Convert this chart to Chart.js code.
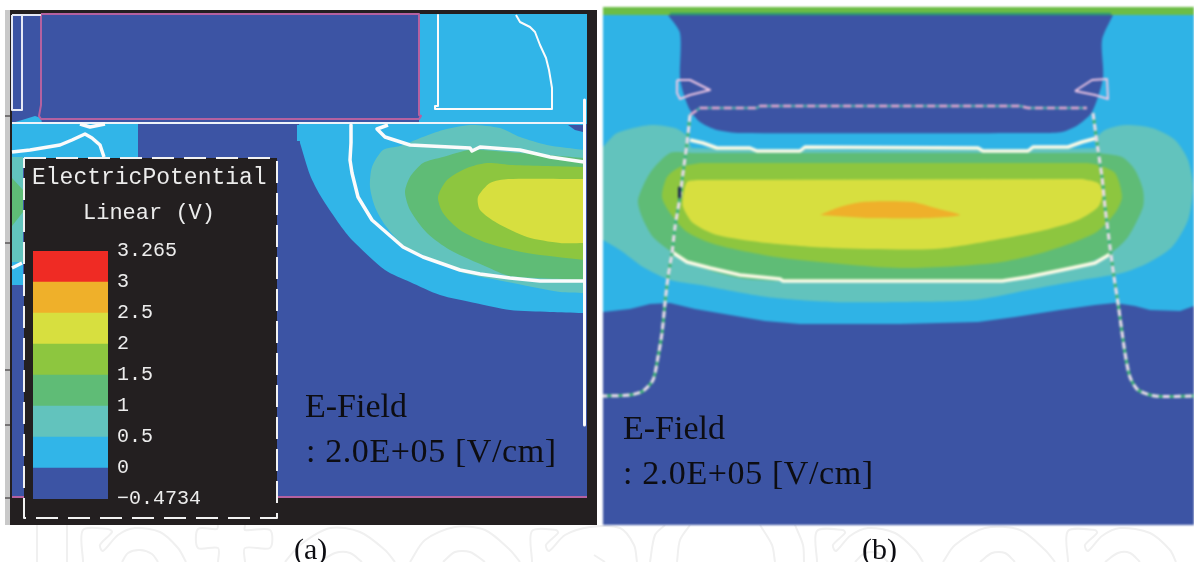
<!DOCTYPE html>
<html>
<head>
<meta charset="utf-8">
<title>Electric potential contours</title>
<script src="https://cdn.jsdelivr.net/npm/chart.js@4"></script>
<style>
html, body { margin: 0; padding: 0; background: #fff; }
body { position: relative; width: 1194px; height: 562px; overflow: hidden; }
canvas { position: absolute; }
#wmark { left: 0; top: 525px; }
#panelA { left: 5px; top: 10px; background: #231f20; filter: blur(.35px); }
#panelB { left: 603px; top: 7px; background: #2fb3e6; filter: blur(.8px); }
#scale { left: 33px; top: 230px; }
.t { position: absolute; white-space: pre; line-height: 1; font-family: "Liberation Serif", serif; color: #0d0d12; }
.note { font-size: 34px; }
.wide { letter-spacing: .6px; }
.cap { font-size: 30px; }
.mono { font-family: "Liberation Mono", monospace; color: #ececec; }
</style>
</head>
<body>
<canvas id="wmark" width="1194" height="37"></canvas>
<canvas id="panelA" width="592" height="515"></canvas>
<canvas id="panelB" width="591" height="518"></canvas>
<canvas id="scale" width="237" height="290"></canvas>

<div class="t mono" style="left:32px;top:167px;font-size:23px">ElectricPotential</div>
<div class="t mono" style="left:83px;top:203px;font-size:22px">Linear (V)</div>
<div class="t note" style="left:305px;top:389px">E-Field</div>
<div class="t note wide" style="left:306px;top:434px">: 2.0E+05 [V/cm]</div>
<div class="t note" style="left:623px;top:411px">E-Field</div>
<div class="t note wide" style="left:623px;top:456px">: 2.0E+05 [V/cm]</div>
<div class="t cap" style="left:294px;top:534px">(a)</div>
<div class="t cap" style="left:862px;top:534px">(b)</div>

<script>
// colour scale
const bandLabels = ['−0.4734', '0', '0.5', '1', '1.5', '2', '2.5', '3', '3.265'];
const bandValues = [1, 1, 1, 1, 1, 1, 1, 1];
const bandColors = ['#3c54a4', '#31b5e8', '#62c3bd', '#5fbc76', '#8dc63f', '#d7df3f', '#efb02a', '#ef2b24'];
const [NAVY, SKY, TEAL, GREEN, LIME, YELLOW, ORANGE] = bandColors;

// panel (a) contours, [x, y] pairs
const aPlot = [12,14, 587,14, 587,497, 12,497];
const aStrip = [5,10, 10,10, 10,525, 5,525];
const aTick1 = [5,116, 10,116];
const aTick2 = [5,243, 10,243];
const aTick3 = [5,370, 10,370];
const aTick4 = [5,425, 10,425];
const aTick5 = [5,498, 10,498];
const aRightSky = [419,14, 587,14, 587,124, 419,124];
const aLeftBump = [12,123, 22,120, 35,116, 41,118, 42,123];
const aLeftSky = [12,124, 138,124, 138,160, 23,160, 23,285, 12,285];
const aLeftTeal = [12,157, 23,157, 23,262, 12,262];
const aLeftGreen = [12,178, 23,190, 23,212, 12,226];
const aSky = [299,124, 301,124, 582,124, 584,124, 584,126, 584,311, 584,313, 582,313, 550,312, 510,310, 475,303, 440,295, 410,282, 385,270, 352,240, 340,225, 320,195, 310,175, 300,143];
const aTeal = [584,150, 547,145, 520,137, 500,128, 470,125, 443,130, 423,137, 408,143, 400,146, 383,150, 372,167, 370,187, 375,207, 385,225, 403,245, 430,258, 460,272, 513,283, 560,292, 584,293];
const aGreen = [584,158, 520,153, 470,150, 443,157, 423,163, 410,177, 405,192, 410,210, 427,233, 450,250, 487,267, 510,276, 584,280];
const aLime = [584,167, 513,165, 487,163, 467,168, 447,180, 438,197, 443,213, 460,230, 487,243, 527,253, 584,260];
const aYellow = [584,179, 508,179, 490,183, 478,197, 480,210, 497,223, 527,237, 560,243, 584,243];
const aNavyPatch = [568,125, 583,125, 583,132, 575,130];
const aSkyNick = [297,125, 300,125, 300,141, 297,141];
const aGate = [41,14, 419,14, 419,115, 421,116, 419,119, 41,119, 39,116, 41,105];
const aSpacerLeft = [12,15, 22,15, 22,110, 12,110];
const aTopLine = [22,15, 41,15];
const aHLine = [12,123, 584,123];
const aRightEdge = [584.5,100, 584.5,425];
const aSpacerRight = [438,15, 438,106, 435,106, 435,109, 552,109, 552,88, 549,70, 546,58, 540,45, 535,32, 530,27, 520,22, 516,15];
const aContourInner = [351,125, 351,143, 350,160, 352,173, 358,197, 372,220, 403,247, 423,257, 460,270, 480,274, 510,278, 540,281, 584,281];
const aContourTop = [388,125, 377,129, 385,137, 410,145, 470,148, 472,151, 480,147, 520,150, 550,157, 584,162];
const aContourLeft = [12,152, 30,150, 60,145, 72,140, 85,134, 92,138, 100,145, 104,157];
const aContourStub = [80,124, 90,127, 105,124];
const aContourLow = [12,268, 22,263];
const aLegendBox = [24,158, 277,158, 277,518, 24,518];
const aBottomBar = [10,498, 587,498, 587,525, 10,525];

// panel (b) contours
const bNavyLow = [603,312, 630,309, 650,304, 670,303, 695,309, 730,315, 765,321, 800,324, 900,324, 978,322, 1015,317, 1060,310, 1095,305, 1115,303, 1135,306, 1150,310, 1180,311, 1194,306, 1194,525, 603,525];
const bTeal = [603,147, 617,133, 650,125, 675,128, 688,137, 692,148, 1095,148, 1095,140, 1105,130, 1125,125, 1152,128, 1175,140, 1188,160, 1193,187, 1188,220, 1172,247, 1148,263, 1122,273, 1082,280, 1028,290, 975,300, 900,302, 833,302, 767,297, 700,285, 670,280, 643,267, 620,250, 603,240];
const bGreen = [693,153, 670,153, 650,173, 638,200, 642,217, 653,237, 672,252, 700,267, 740,278, 783,281, 1000,281, 1045,274, 1082,265, 1112,252, 1128,237, 1143,207, 1143,190, 1135,170, 1122,157, 1098,153];
const bLime = [700,163, 680,167, 667,177, 662,197, 670,213, 687,232, 717,245, 783,258, 900,268, 995,263, 1045,252, 1095,233, 1115,213, 1122,197, 1115,173, 1098,165, 1088,163];
const bYellow = [697,180, 687,182, 683,197, 683,207, 693,223, 717,235, 767,243, 833,248, 935,249, 995,240, 1045,230, 1078,220, 1098,207, 1103,193, 1098,183, 1082,179];
const bOrange = [820,215, 840,207, 863,202, 912,202, 935,208, 960,215, 928,218, 867,218];
const bGate = [668,15, 680,33, 680,78, 684,95, 690,110, 700,122, 717,130, 740,133, 1038,133, 1062,132, 1078,125, 1092,112, 1103,78, 1102,40, 1113,15];
const bTopBar = [603,7, 1194,7, 1194,15, 603,15];
const bTopEdge = [670,14, 1111,14];
const bWhiteTop = [690,140, 703,143, 717,148, 750,148, 757,151, 800,151, 805,147, 978,148, 983,151, 1028,151, 1033,147, 1068,147, 1082,142, 1097,138];
const bWhiteBottom = [672,252, 687,262, 710,268, 740,275, 780,279, 783,281, 1002,281, 1028,277, 1062,270, 1095,263, 1112,253];
const bBoundaryTop = [690,115, 700,108, 757,108, 760,106, 1020,106, 1028,108, 1087,108];
const bBoundaryLeft = [690,115, 687,143, 683,173, 680,197, 675,227, 672,253, 668,277, 665,303, 662,333, 658,357, 653,380, 643,391, 630,395, 603,396];
const bBoundaryRight = [1093,113, 1098,150, 1102,177, 1105,207, 1110,247, 1114,277, 1118,303, 1125,353, 1130,377, 1138,390, 1155,396, 1194,396];
const bFlagLeft = [677,80, 690,80, 710,90, 690,95, 680,99, 677,93];
const bFlagRight = [1075,91, 1092,80, 1107,79, 1108,99, 1095,95];
const bMark = [679.5,188, 679.5,197];

// pale watermark strokes under the panels
const wStrokes = [
    [37,525, 37,562], [67,525, 67,562],
    [83,562, 83,530, 108,529, 112,532, 100,545, 103,551, 118,535, 135,528, 160,532, 178,548, 186,562],
    [122,562, 128,553, 140,550, 152,554, 158,562],
    [218,525, 217,529, 198,529, 198,548, 218,548, 218,562],
    [245,525, 245,530, 270,530, 270,548, 245,548, 245,562],
    [285,562, 300,545, 330,528, 360,532, 385,550, 395,562],
    [320,562, 335,553, 350,553, 362,562],
    [410,562, 425,540, 455,527, 485,530, 510,550, 520,562],
    [443,562, 455,552, 470,552, 485,562],
    [532,562, 532,531, 556,530, 558,533, 546,545, 549,551, 565,535, 590,527, 620,528, 634,545, 637,562],
    [594,555, 605,562],
    [650,562, 655,535, 665,525], [677,562, 680,540, 690,525],
    [760,525, 772,545, 775,562], [795,525, 803,545, 804,562],
    [817,562, 817,531, 843,530, 845,533, 833,545, 836,551, 850,536, 868,528, 895,533, 915,550, 923,562],
    [855,562, 865,553, 878,553, 888,562],
    [943,562, 955,545, 985,528, 1020,530, 1045,550, 1055,562],
    [980,562, 992,553, 1005,553, 1015,562],
    [1068,562, 1068,531, 1095,530, 1097,533, 1085,545, 1088,551, 1102,536, 1120,528, 1150,533, 1170,550, 1176,562],
    [1105,562, 1118,553, 1130,553, 1140,562]
];

const toPoints = flat => {
    const out = [];
    for (let i = 0; i < flat.length; i += 2) out.push({ x: flat[i], y: flat[i + 1] });
    return out;
};

// closed, filled contour
const area = (flat, color, tension = 0) => ({
    data: toPoints(flat), showLine: true, fill: 'shape', backgroundColor: color,
    borderWidth: 0, pointRadius: 0, tension: tension
});

// open stroke
const stroke = (flat, color, width, dash = [], tension = 0, loop = false) => ({
    data: toPoints(loop ? flat.concat(flat.slice(0, 2)) : flat), showLine: true, fill: false,
    borderColor: color, borderWidth: width, borderDash: dash, pointRadius: 0, tension: tension,
    borderCapStyle: 'butt', borderJoinStyle: 'round'
});

// first listed is painted first
const panelChart = (id, layers, x0, x1, y0, y1) => new Chart(document.getElementById(id), {
    type: 'scatter',
    data: { datasets: layers.map((d, i) => ({ ...d, order: layers.length - i })) },
    options: {
        responsive: false,
        animation: false,
        events: [],
        layout: { padding: 0 },
        plugins: { legend: { display: false }, tooltip: { enabled: false }, title: { display: false } },
        scales: {
            x: { type: 'linear', display: false, min: x0, max: x1 },
            y: { type: 'linear', display: false, min: y0, max: y1, reverse: true }
        }
    }
});

panelChart('wmark', wStrokes.map(s => stroke(s, '#f0f0f0', 2, [], 0.3)), 0, 1194, 525, 562);

const PINK = '#b561a0';
const WHITE = '#fbfbfb';
const SOFT = 0.25;
panelChart('panelA', [
    area(aStrip, '#c9c9c9'),
    area(aPlot, NAVY),
    area(aRightSky, SKY),
    area(aLeftSky, SKY),
    area(aLeftBump, SKY),
    area(aLeftTeal, TEAL),
    area(aLeftGreen, GREEN),
    area(aSky, SKY, SOFT),
    area(aSkyNick, SKY),
    area(aTeal, TEAL, SOFT),
    area(aGreen, GREEN, SOFT),
    area(aLime, LIME, SOFT),
    area(aYellow, YELLOW, SOFT),
    area(aNavyPatch, NAVY),
    area(aGate, NAVY),
    stroke(aGate, PINK, 2, [], 0, true),
    stroke(aPlot.slice(4, 8), PINK, 2),
    stroke(aSpacerLeft, '#e6e9f5', 2, [], 0, true),
    stroke(aTopLine, '#e6e9f5', 2),
    stroke(aHLine, '#eef3fa', 2),
    stroke(aRightEdge, WHITE, 3),
    stroke(aSpacerRight, WHITE, 2),
    stroke(aContourInner, WHITE, 3.5),
    stroke(aContourTop, WHITE, 3.5),
    stroke(aContourLeft, WHITE, 3.5),
    stroke(aContourStub, WHITE, 3.5),
    stroke(aContourLow, WHITE, 3.5),
    area(aBottomBar, '#231f20'),
    stroke(aTick1, '#231f20', 1), stroke(aTick2, '#231f20', 1), stroke(aTick3, '#231f20', 1),
    stroke(aTick4, '#231f20', 1), stroke(aTick5, '#231f20', 1),
    area(aLegendBox, '#231f20'),
    stroke(aLegendBox, '#f2f2f2', 2, [22, 10], 0, true)
], 5, 597, 10, 525);

const CREAM = '#fdfbe6';
const DASH_GREEN = '#3fb578';
const DASH_PALE = '#ecdcec';
panelChart('panelB', [
    area(bTeal, TEAL, SOFT),
    area(bNavyLow, NAVY),
    area(bGreen, GREEN, SOFT),
    area(bLime, LIME, SOFT),
    area(bYellow, YELLOW, SOFT),
    area(bOrange, ORANGE, SOFT),
    area(bGate, NAVY, SOFT),
    area(bTopBar, '#6cbd45'),
    stroke(bTopEdge, '#2e9a72', 2.5),
    stroke(bWhiteTop, CREAM, 3.5),
    stroke(bWhiteBottom, CREAM, 3.5),
    stroke(bBoundaryTop, '#49a5a8', 2.5),
    stroke(bBoundaryTop, '#e6a6cf', 2.5, [8, 4]),
    stroke(bBoundaryLeft, DASH_GREEN, 3, [], SOFT),
    stroke(bBoundaryLeft, DASH_PALE, 3, [7, 4], SOFT),
    stroke(bBoundaryRight, DASH_GREEN, 3, [], SOFT),
    stroke(bBoundaryRight, DASH_PALE, 3, [7, 4], SOFT),
    stroke(bFlagLeft, '#eec6e4', 2, [], 0, true),
    stroke(bFlagRight, '#eec6e4', 2, [], 0, true),
    stroke(bMark, '#1d2a50', 3)
], 603, 1194, 7, 525);

new Chart(document.getElementById('scale'), {
    type: 'bar',
    data: {
        labels: [''],
        datasets: bandValues.map((v, i) => ({
            data: [v], backgroundColor: bandColors[i], barPercentage: 1, categoryPercentage: 1
        }))
    },
    options: {
        responsive: false,
        animation: false,
        events: [],
        layout: { padding: 0 },
        plugins: { legend: { display: false }, tooltip: { enabled: false } },
        scales: {
            x: { display: false, stacked: true },
            y: {
                position: 'right', stacked: true, min: 0, max: 8,
                afterFit(scale) { scale.width = 162; },
                grid: { display: false, drawTicks: false },
                border: { display: false },
                ticks: {
                    stepSize: 1, autoSkip: false, padding: 9, color: '#ececec',
                    font: { family: '"Liberation Mono", monospace', size: 20 },
                    callback: v => bandLabels[v]
                }
            }
        }
    }
});
</script>
</body>
</html>
